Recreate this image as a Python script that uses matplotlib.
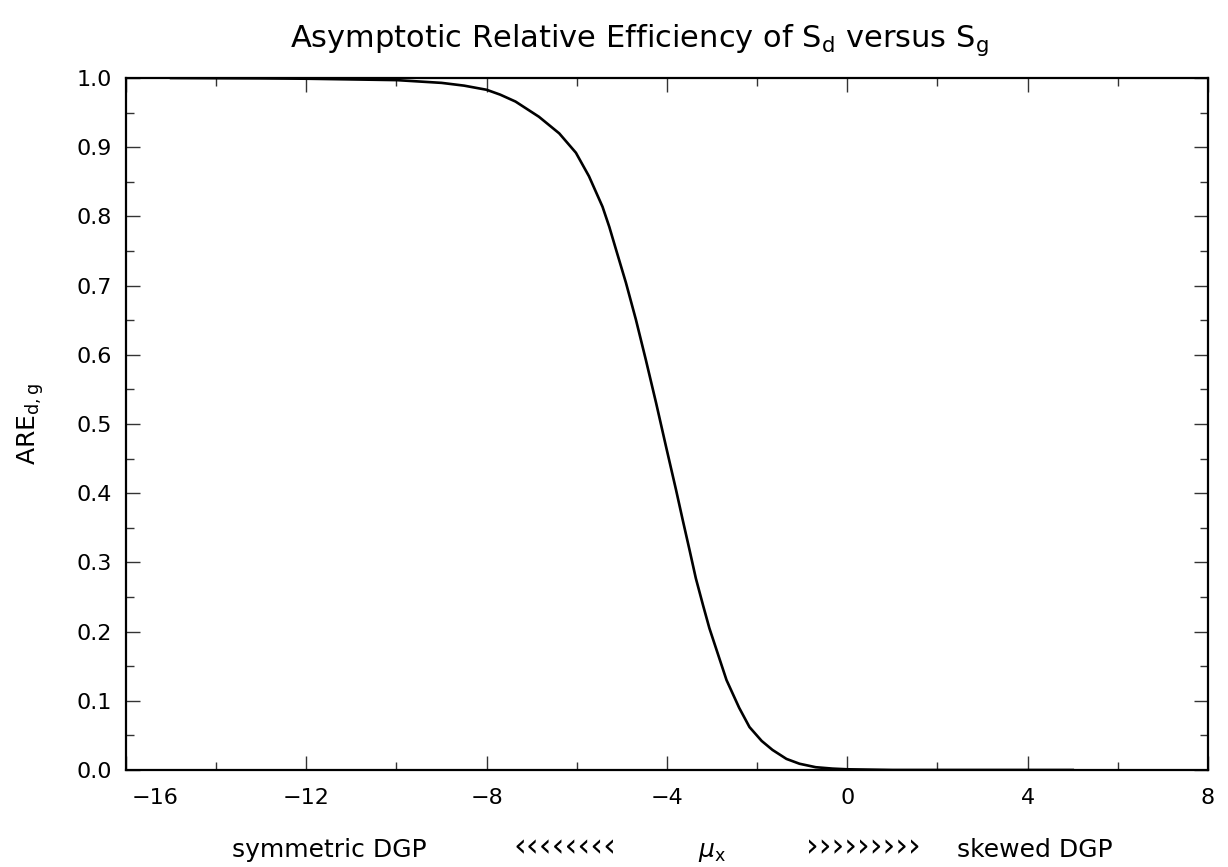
import numpy as np
import matplotlib.pyplot as plt
from matplotlib.ticker import MultipleLocator, FormatStrFormatter
import matplotlib.transforms as mtransforms

# values
mu_x = [-15, -13, -12, -11, -10, -9, -8.5, -8, -7.7, -7.36, -6.84, -6.39,
        -6.02, -5.73, -5.43, -5.28, -5.13, -4.91, -4.69, -4.47, -4.24, -4.02,
        -3.80, -3.65, -3.5, -3.36, -3.2, -3.06, -2.68, -2.4, -2.17, -1.9,
        -1.66, -1.35, -1.06, -0.7, -0.33, 0, 1, 2, 3, 4, 5]
are_dg = [1.0, 0.9995, 0.999, 0.998, 0.997, 0.993, 0.989, 0.983, 0.976,
          0.966, 0.944, 0.920, 0.892, 0.858, 0.814, 0.785, 0.752, 0.704,
          0.651, 0.593, 0.530, 0.467, 0.405, 0.361, 0.318, 0.277, 0.238,
          0.205, 0.130, 0.090, 0.062, 0.042, 0.029, 0.016, 0.009, 0.004,
          0.002, 0.001, 0.0, 0.0, 0.0, 0.0, 0.0]

x_ticks = [-16, -12, -8, -4, 0, 4, 8]

plt.rcParams['font.family'] = ['DejaVu Sans']
plt.rcParams['mathtext.fontset'] = 'dejavusans'

fig = plt.figure(figsize=(12.28, 8.67), dpi=100)
ax = fig.add_axes([0.1026, 0.1119, 0.8811, 0.7981])

ax.plot(mu_x, are_dg, color='black', linewidth=1.9)

ax.set_xlim(-16, 8)
ax.set_ylim(0, 1)
ax.set_xticks(x_ticks)
ax.xaxis.set_minor_locator(MultipleLocator(2))
ax.yaxis.set_major_locator(MultipleLocator(0.1))
ax.yaxis.set_minor_locator(MultipleLocator(0.05))
ax.yaxis.set_major_formatter(FormatStrFormatter('%.1f'))

ax.tick_params(which='both', direction='in', top=True, right=True,
               width=1.0, labelsize=16, color='#333333')
ax.tick_params(which='major', length=10)
ax.tick_params(axis='x', which='major', pad=13)
ax.tick_params(axis='y', which='major', pad=10)
ax.tick_params(which='minor', length=6)
for s in ax.spines.values():
    s.set_linewidth(1.6)

# the leftmost label sits inside the frame in the original
lab = ax.get_xticklabels()[0]
lab.set_transform(lab.get_transform() + mtransforms.ScaledTranslation(0.29, 0, fig.dpi_scale_trans))

fig.text(0.521, 0.954,
         r'Asymptotic Relative Efficiency of S$_\mathregular{d}$ versus S$_\mathregular{g}$',
         ha='center', va='center', fontsize=22)

ax.set_ylabel(r'ARE$_\mathregular{d,g}$', fontsize=18, labelpad=22)

yb = 0.012
fig.text(0.189, yb, 'symmetric DGP', ha='left', va='baseline', fontsize=18)
fig.text(0.418, yb, '\u2039' * 8, ha='left', va='baseline', fontsize=23)
fig.text(0.580, yb, r'$\mu_\mathregular{x}$', ha='center', va='baseline', fontsize=18)
fig.text(0.656, yb, '\u203a' * 9, ha='left', va='baseline', fontsize=23)
fig.text(0.779, yb, 'skewed DGP', ha='left', va='baseline', fontsize=18)

fig.savefig('out.png', dpi=100)
